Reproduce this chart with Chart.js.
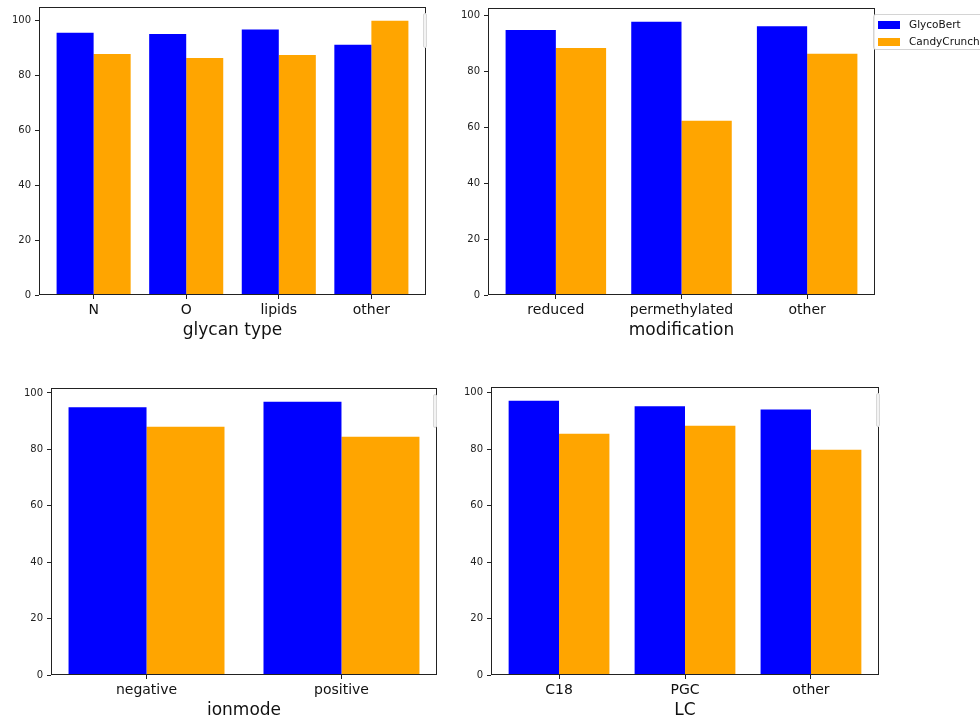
<!DOCTYPE html>
<html>
<head>
<meta charset="utf-8">
<script src="https://cdn.jsdelivr.net/npm/chart.js@4"></script>
<style>
  html, body { margin: 0; padding: 0; background: #fff; }
  body { position: relative; width: 980px; height: 716px; overflow: hidden; font-family: 'DejaVu Sans', sans-serif; }
  canvas { position: absolute; }
  .legend-box {
    position: absolute; left: 873px; top: 14px; width: 130px; height: 34px;
    background: rgba(255,255,255,0.9); border: 1px solid #d4d4d4; border-radius: 3px;
  }
  .legend-item { position: absolute; left: 4px; height: 12px; font-size: 10.5px; color: #111; }
  .legend-item span.sw { position: absolute; left: 0; top: 2px; width: 22px; height: 8px; }
  .legend-item span.tx { position: absolute; left: 31px; top: -1px; white-space: nowrap; }
  .frag {
    position: absolute; width: 2px; border: 1px solid #d8d8d8; border-radius: 2px; background: #f3f3f3;
  }
</style>
</head>
<body>
<canvas id="glycanChart"></canvas>
<canvas id="modChart"></canvas>
<canvas id="ionChart"></canvas>
<canvas id="lcChart"></canvas>
<div class="legend-box" id="legendBox"></div>
<div class="frag" style="left:423px; top:13px; height:33px;"></div>
<div class="frag" style="left:433px; top:394px; height:32px;"></div>
<div class="frag" style="left:876px; top:393px; height:32px;"></div>

<script>
// ---- data (accuracy %) ----
const seriesNames = ['GlycoBert', 'CandyCrunch'];
const seriesColors = ['#0000ff', '#ffa500'];
const yTicks = [0, 20, 40, 60, 80, 100];

const glycanCats = ['N', 'O', 'lipids', 'other'];
const glycanBert = [95.6, 95.2, 96.8, 91.2];
const glycanCandy = [87.9, 86.4, 87.5, 100];

const modCats = ['reduced', 'permethylated', 'other'];
const modBert = [94.9, 97.9, 96.3];
const modCandy = [88.5, 62.4, 86.4];

const ionCats = ['negative', 'positive'];
const ionBert = [94.9, 96.9];
const ionCandy = [88.0, 84.5];

const lcCats = ['C18', 'PGC', 'other'];
const lcBert = [97.2, 95.2, 94.1];
const lcCandy = [85.5, 88.3, 79.8];

// ---- layout (plot-area box in page pixels: left, top, right, bottom) ----
const Y_AXIS_W = 38;
const X_AXIS_H = 48;
const PAD_TOP = 12;
const PAD_RIGHT = 10;

Chart.defaults.font.family = "'DejaVu Sans', sans-serif";
Chart.defaults.color = '#111';

// matplotlib style spines around the plot area
const framePlugin = {
    id: 'frame',
    afterDraw(chart) {
        const { ctx, chartArea: a } = chart;
        ctx.save();
        ctx.strokeStyle = '#222';
        ctx.lineWidth = 1;
        ctx.strokeRect(Math.round(a.left) + 0.5, Math.round(a.top) + 0.5,
            Math.round(a.right - a.left) - 1, Math.round(a.bottom - a.top) - 1);
        ctx.restore();
    }
};

function initPanel(id, cats, bert, candy, axisTitle, box) {
    const [L, T, R, B] = box;
    const canvas = document.getElementById(id);
    canvas.width = R - L + Y_AXIS_W + PAD_RIGHT;
    canvas.height = B - T + PAD_TOP + X_AXIS_H;
    canvas.style.left = (L - Y_AXIS_W) + 'px';
    canvas.style.top = (T - PAD_TOP) + 'px';

    // matplotlib auto-limits: 5% margin around the bars, y from 0 to 1.05 * max
    const span = cats.length - 1 + 0.8;
    const xMin = -0.4 - 0.05 * span;
    const xMax = cats.length - 1 + 0.4 + 0.05 * span;
    const yMax = Math.max(...bert, ...candy) * 1.05;

    const seriesData = [bert, candy];

    return new Chart(canvas.getContext('2d'), {
        type: 'bar',
        data: {
            datasets: seriesNames.map((name, s) => ({
                label: name,
                data: cats.map((c, i) => ({ x: i, y: seriesData[s][i] })),
                backgroundColor: seriesColors[s],
                borderWidth: 0,
                categoryPercentage: 0.8,
                barPercentage: 1.0
            }))
        },
        options: {
            responsive: false,
            animation: false,
            devicePixelRatio: 1,
            layout: { padding: { top: PAD_TOP, right: PAD_RIGHT, left: 0, bottom: 0 } },
            plugins: {
                legend: { display: false },
                tooltip: { enabled: false }
            },
            scales: {
                x: {
                    type: 'linear',
                    min: xMin,
                    max: xMax,
                    offset: false,
                    afterBuildTicks: (scale) => { scale.ticks = cats.map((c, i) => ({ value: i })); },
                    afterFit: (scale) => { scale.height = X_AXIS_H; },
                    ticks: {
                        autoSkip: false,
                        maxRotation: 0,
                        minRotation: 0,
                        padding: 3,
                        color: '#111',
                        font: { size: 14 },
                        callback: (value) => cats[Math.round(value)]
                    },
                    grid: { offset: false, drawOnChartArea: false, drawTicks: true, tickLength: 4, color: '#222' },
                    border: { display: false },
                    title: {
                        display: true,
                        text: axisTitle,
                        color: '#111',
                        font: { size: 17 },
                        padding: { top: 0, bottom: 2 }
                    }
                },
                y: {
                    min: 0,
                    max: yMax,
                    afterBuildTicks: (scale) => { scale.ticks = yTicks.map(v => ({ value: v })); },
                    afterFit: (scale) => { scale.width = Y_AXIS_W; },
                    ticks: { padding: 4, color: '#222', font: { size: 10 } },
                    grid: { drawOnChartArea: false, drawTicks: true, tickLength: 4, color: '#222' },
                    border: { display: false }
                }
            }
        },
        plugins: [framePlugin]
    });
}

// legend for the top-right panel, built from the chart's datasets
function buildLegend(chart) {
    const boxEl = document.getElementById('legendBox');
    chart.data.datasets.forEach((ds, i) => {
        const item = document.createElement('div');
        item.className = 'legend-item';
        item.style.top = (4 + i * 17) + 'px';
        const sw = document.createElement('span');
        sw.className = 'sw';
        sw.style.background = ds.backgroundColor;
        const tx = document.createElement('span');
        tx.className = 'tx';
        tx.textContent = ds.label;
        item.appendChild(sw);
        item.appendChild(tx);
        boxEl.appendChild(item);
    });
}

initPanel('glycanChart', glycanCats, glycanBert, glycanCandy, 'glycan type', [39, 7, 426, 295]);
const modChart = initPanel('modChart', modCats, modBert, modCandy, 'modification', [488, 8, 875, 295]);
initPanel('ionChart', ionCats, ionBert, ionCandy, 'ionmode', [51, 388, 437, 675]);
initPanel('lcChart', lcCats, lcBert, lcCandy, 'LC', [491, 387, 879, 675]);
buildLegend(modChart);
</script>
</body>
</html>
